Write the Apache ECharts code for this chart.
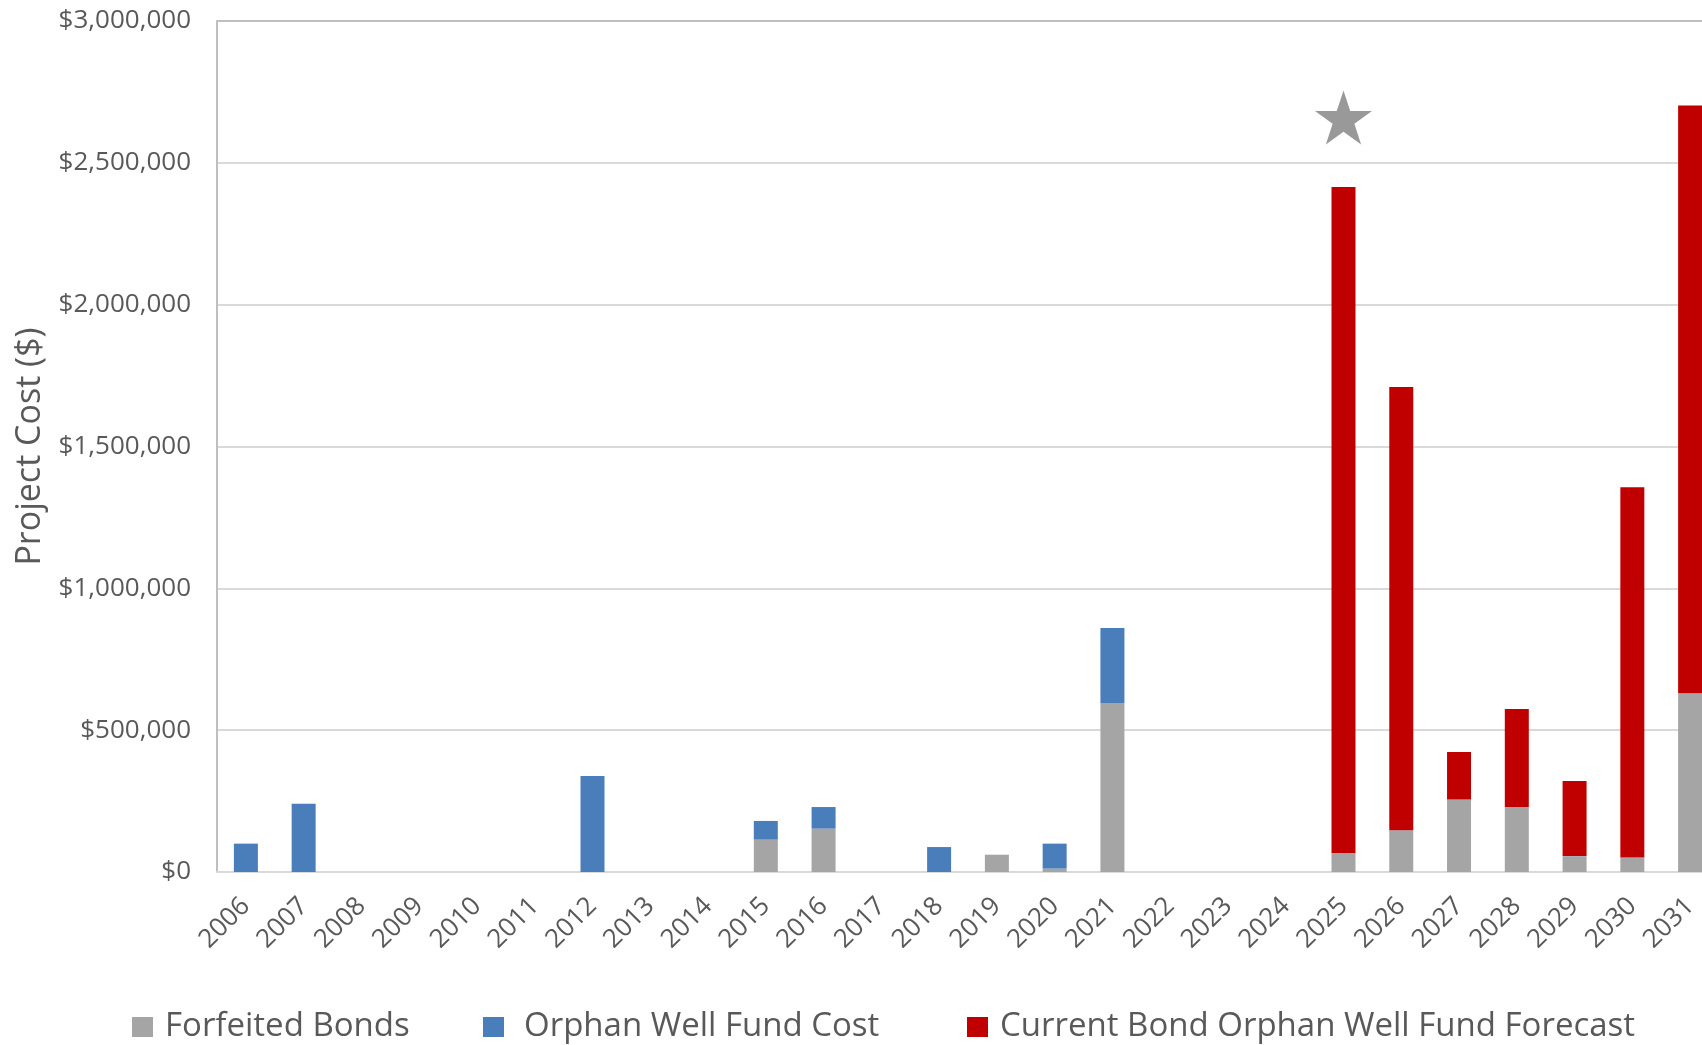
<!DOCTYPE html>
<html>
<head>
<meta charset="utf-8">
<title>Project Cost</title>
<script src="https://cdn.jsdelivr.net/npm/echarts@6/dist/echarts.min.js"></script>
<style>
  html, body { margin: 0; padding: 0; background: #ffffff; overflow: hidden; }
  /* the plot runs slightly past the right edge of the window, so the last bar is cut */
  #chart { width: 1719px; height: 1045px; }
</style>
</head>
<body>
<div id="chart"></div>
<script>
// Years on the category axis
const years = ['2006', '2007', '2008', '2009', '2010', '2011', '2012', '2013', '2014',
  '2015', '2016', '2017', '2018', '2019', '2020', '2021', '2022', '2023', '2024',
  '2025', '2026', '2027', '2028', '2029', '2030', '2031'];

// Stacked cost components, in dollars
const forfeitedBonds = [0, 0, 0, 0, 0, 0, 0, 0, 0, 114000, 153000, 0, 0, 61000, 12000, 596000,
  0, 0, 0, 67000, 147000, 256000, 229000, 56000, 51000, 630000];
const orphanWellFundCost = [100000, 241000, 0, 0, 0, 0, 338000, 0, 0, 66000, 76000, 0, 88000, 0, 88000, 264000,
  0, 0, 0, 0, 0, 0, 0, 0, 0, 0];
const bondForecast = [0, 0, 0, 0, 0, 0, 0, 0, 0, 0, 0, 0, 0, 0, 0, 0,
  0, 0, 0, 2348000, 1563000, 167000, 346000, 265000, 1305000, 2072000];

// Star marker above the 2025 bar
const starYear = '2025';
const starValue = 2660000;

const seriesNames = ['Forfeited Bonds', 'Orphan Well Fund Cost', 'Current Bond Orphan Well Fund Forecast'];

const STAR_PATH = 'path://M100 0 L122.45 69.1 L195.11 69.1 L136.33 111.8 L158.78 180.9 L100 138.2 L41.22 180.9 L63.67 111.8 L4.89 69.1 L77.55 69.1 Z';

const FONT = '"Open Sans", "Liberation Sans", sans-serif';
const TEXT = '#595959';

function legendAt(name, left, textGap) {
  return {
    data: [name],
    left: left,
    top: 1010,
    padding: 0,
    icon: 'rect',
    itemWidth: 21,
    itemHeight: 20,
    selectedMode: false,
    textStyle: {
      fontFamily: FONT,
      fontSize: 33,
      lineHeight: 34,
      color: TEXT,
      padding: [0, 0, 0, textGap]
    }
  };
}

const chart = echarts.init(document.getElementById('chart'), null, { renderer: 'canvas' });

chart.setOption({
  backgroundColor: '#ffffff',
  animation: false,
  grid: { left: 217, top: 21, bottom: 173, right: 0, containLabel: false },
  legend: [
    legendAt(seriesNames[0], 132, 7),
    legendAt(seriesNames[1], 483, 15),
    legendAt(seriesNames[2], 967, 7)
  ],
  xAxis: {
    type: 'category',
    data: years,
    axisLine: { show: true, lineStyle: { color: '#d9d9d9', width: 2 } },
    axisTick: { show: false },
    axisLabel: {
      interval: 0,
      rotate: 45,
      margin: 30,
      fontFamily: FONT,
      fontSize: 26,
      color: TEXT
    }
  },
  yAxis: {
    type: 'value',
    min: 0,
    max: 3000000,
    interval: 500000,
    name: 'Project Cost ($)',
    nameLocation: 'middle',
    nameGap: 168,
    nameTextStyle: { fontFamily: FONT, fontSize: 34, color: TEXT },
    axisLine: { show: true, lineStyle: { color: '#bfbfbf', width: 2 } },
    axisTick: { show: false },
    axisLabel: {
      margin: 26,
      fontFamily: FONT,
      fontSize: 26,
      color: TEXT,
      formatter: function (v) { return '$' + v.toLocaleString('en-US'); }
    },
    splitLine: {
      show: true,
      lineStyle: {
        color: ['#d9d9d9', '#d9d9d9', '#d9d9d9', '#d9d9d9', '#d9d9d9', '#d9d9d9', '#bfbfbf'],
        width: 2
      }
    }
  },
  series: [
    {
      name: seriesNames[0],
      type: 'bar',
      stack: 'cost',
      barWidth: 24,
      itemStyle: { color: '#a5a5a5' },
      data: forfeitedBonds
    },
    {
      name: seriesNames[1],
      type: 'bar',
      stack: 'cost',
      barWidth: 24,
      itemStyle: { color: '#4a7ebb' },
      data: orphanWellFundCost
    },
    {
      name: seriesNames[2],
      type: 'bar',
      stack: 'cost',
      barWidth: 24,
      itemStyle: { color: '#c00000' },
      data: bondForecast
    },
    {
      name: 'marker',
      type: 'scatter',
      symbol: STAR_PATH,
      symbolSize: [57, 54],
      itemStyle: { color: '#7f7f7f' },
      data: [[starYear, starValue]],
      z: 5
    }
  ]
});
</script>
</body>
</html>
